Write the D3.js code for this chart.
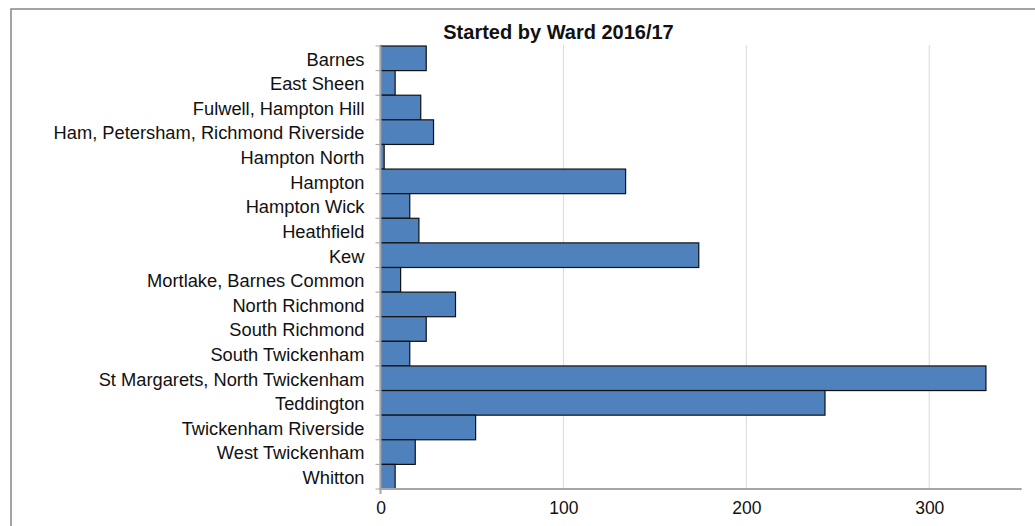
<!DOCTYPE html>
<html>
<head>
<meta charset="utf-8">
<script src="https://cdn.jsdelivr.net/npm/d3@7"></script>
<style>
  html, body { margin: 0; padding: 0; background: #fff; }
  svg { display: block; font-family: Arial, "Liberation Sans", sans-serif; }
</style>
</head>
<body>
<svg id="chart" width="1035" height="526"></svg>
<script>
// Wards in display order (top to bottom)
const wards = [
  "Barnes",
  "East Sheen",
  "Fulwell, Hampton Hill",
  "Ham, Petersham, Richmond Riverside",
  "Hampton North",
  "Hampton",
  "Hampton Wick",
  "Heathfield",
  "Kew",
  "Mortlake, Barnes Common",
  "North Richmond",
  "South Richmond",
  "South Twickenham",
  "St Margarets, North Twickenham",
  "Teddington",
  "Twickenham Riverside",
  "West Twickenham",
  "Whitton"
];

// Number started in each ward
const started = [25, 8, 22, 29, 2, 134, 16, 21, 174, 11, 41, 25, 16, 331, 243, 52, 19, 8];

const xTicks = [0, 100, 200, 300];
const xMax = 350;
const chartTitle = "Started by Ward 2016/17";

const svg = d3.select("#chart");

const plot = { left: 380.5, right: 1020.7, top: 46, bottom: 489 };

const x = d3.scaleLinear().domain([0, xMax]).range([plot.left, plot.right]);
const y = d3.scaleBand().domain(wards).range([plot.top, plot.bottom]).padding(0);

// Chart frame
svg.append("rect")
  .attr("x", 11).attr("y", 9)
  .attr("width", 1100).attr("height", 600)
  .attr("fill", "none")
  .attr("stroke", "#858585")
  .attr("stroke-width", 1.5);

// Title
svg.append("text")
  .attr("x", 558.5).attr("y", 39)
  .attr("text-anchor", "middle")
  .attr("font-size", 20)
  .attr("font-weight", "bold")
  .attr("fill", "#111")
  .text(chartTitle);

// Vertical gridlines
svg.append("g")
  .selectAll("line")
  .data(xTicks.filter(d => d > 0))
  .join("line")
  .attr("x1", d => x(d)).attr("x2", d => x(d))
  .attr("y1", plot.top - 1).attr("y2", plot.bottom)
  .attr("stroke", "#d9d9d9")
  .attr("stroke-width", 1);

// Bars
svg.append("g")
  .selectAll("rect")
  .data(wards.map((w, i) => ({ ward: w, value: started[i] })))
  .join("rect")
  .attr("x", x(0))
  .attr("y", d => y(d.ward))
  .attr("width", d => x(d.value) - x(0))
  .attr("height", y.bandwidth())
  .attr("fill", "#4f81bd")
  .attr("stroke", "#111")
  .attr("stroke-width", 1.2);

// Category axis (left)
const yAxis = d3.axisLeft(y).tickSize(0).tickPadding(16);
const gy = svg.append("g")
  .attr("transform", `translate(${plot.left},0)`)
  .call(yAxis);
gy.select(".domain").remove();
gy.selectAll("text")
  .attr("font-size", 18.3)
  .attr("dy", "0.4em")
  .attr("font-family", "Arial, 'Liberation Sans', sans-serif")
  .attr("fill", "#111");

// Category boundary ticks
const bounds = wards.map(w => y(w)).concat([plot.bottom]);
svg.append("g")
  .selectAll("line")
  .data(bounds)
  .join("line")
  .attr("x1", plot.left - 5).attr("x2", plot.left)
  .attr("y1", d => d).attr("y2", d => d)
  .attr("stroke", "#a6a6a6")
  .attr("stroke-width", 1);

// Axis lines
svg.append("line")
  .attr("x1", plot.left).attr("x2", plot.left)
  .attr("y1", plot.top).attr("y2", plot.bottom + 5)
  .attr("stroke", "#a6a6a6").attr("stroke-width", 2);
svg.append("line")
  .attr("x1", plot.left - 1).attr("x2", plot.right + 1)
  .attr("y1", plot.bottom).attr("y2", plot.bottom)
  .attr("stroke", "#a6a6a6").attr("stroke-width", 2);

// Value axis (bottom)
const xAxis = d3.axisBottom(x).tickValues(xTicks).tickSize(0).tickPadding(13);
const gx = svg.append("g")
  .attr("transform", `translate(0,${plot.bottom})`)
  .call(xAxis);
gx.select(".domain").remove();
gx.selectAll("text")
  .attr("font-size", 17.5)
  .attr("font-family", "Arial, 'Liberation Sans', sans-serif")
  .attr("fill", "#111");
</script>
</body>
</html>
